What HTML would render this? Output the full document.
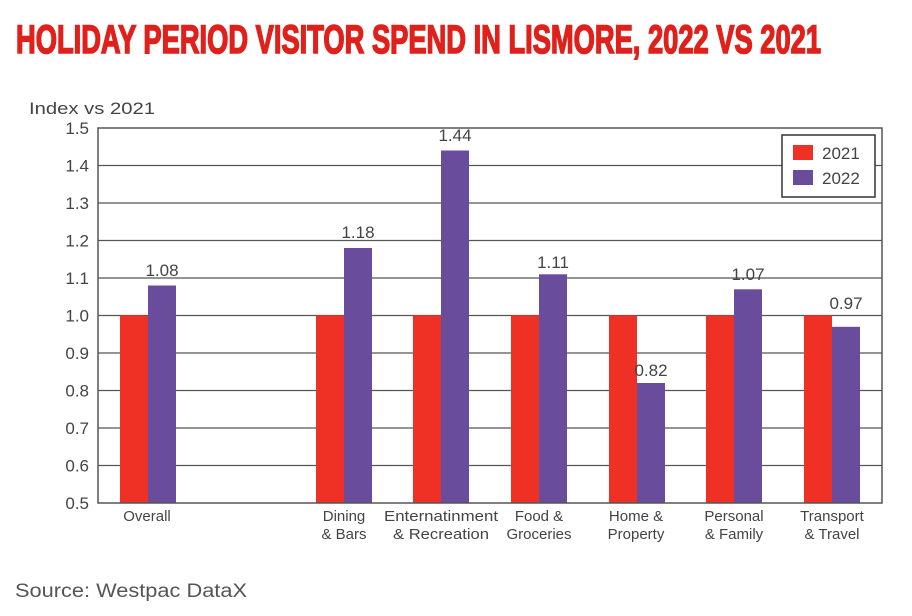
<!DOCTYPE html>
<html><head><meta charset="utf-8"><style>
html,body{margin:0;padding:0;background:#fff;}
svg{display:block;font-family:"Liberation Sans",sans-serif;}
</style></head><body>
<svg width="912" height="616" viewBox="0 0 912 616" xmlns="http://www.w3.org/2000/svg">
<text x="16" y="53" font-size="40" font-weight="bold" fill="#E0201B" stroke="#E0201B" stroke-width="1.6" textLength="805" lengthAdjust="spacingAndGlyphs" font-family="Liberation Sans Narrow, Liberation Sans, sans-serif">HOLIDAY PERIOD VISITOR SPEND IN LISMORE, 2022 VS 2021</text>
<text x="29" y="114" font-size="17" fill="#444" textLength="126" lengthAdjust="spacingAndGlyphs">Index vs 2021</text>
<g stroke="#555" stroke-width="1.2">
<line x1="98" x2="882" y1="165.5" y2="165.5"/>
<line x1="98" x2="882" y1="203" y2="203"/>
<line x1="98" x2="882" y1="240.5" y2="240.5"/>
<line x1="98" x2="882" y1="278" y2="278"/>
<line x1="98" x2="882" y1="315.5" y2="315.5"/>
<line x1="98" x2="882" y1="353" y2="353"/>
<line x1="98" x2="882" y1="390.5" y2="390.5"/>
<line x1="98" x2="882" y1="428" y2="428"/>
<line x1="98" x2="882" y1="465.5" y2="465.5"/>
</g>
<g font-size="17" fill="#444" text-anchor="end">
<text x="89" y="134">1.5</text><text x="89" y="171.5">1.4</text><text x="89" y="209">1.3</text>
<text x="89" y="246.5">1.2</text><text x="89" y="284">1.1</text><text x="89" y="321.5">1.0</text>
<text x="89" y="359">0.9</text><text x="89" y="396.5">0.8</text><text x="89" y="434">0.7</text>
<text x="89" y="471.5">0.6</text><text x="89" y="509">0.5</text>
</g>
<g fill="#EE3124">
<rect x="120" y="315.5" width="28" height="187.5"/>
<rect x="316" y="315.5" width="28" height="187.5"/>
<rect x="413" y="315.5" width="28" height="187.5"/>
<rect x="511" y="315.5" width="28" height="187.5"/>
<rect x="609" y="315.5" width="28" height="187.5"/>
<rect x="706" y="315.5" width="28" height="187.5"/>
<rect x="804" y="315.5" width="28" height="187.5"/>
</g>
<g fill="#6A4C9C">
<rect x="148" y="285.5" width="28" height="217.5"/>
<rect x="344" y="248" width="28" height="255"/>
<rect x="441" y="150.5" width="28" height="352.5"/>
<rect x="539" y="274.3" width="28" height="228.7"/>
<rect x="637" y="383" width="28" height="120"/>
<rect x="734" y="289.3" width="28" height="213.7"/>
<rect x="832" y="326.8" width="28" height="176.2"/>
</g>
<rect x="98" y="128" width="784" height="375" fill="none" stroke="#555" stroke-width="1.5"/>
<g font-size="17" fill="#444" text-anchor="middle">
<text x="162" y="276">1.08</text><text x="358" y="238">1.18</text><text x="455" y="141">1.44</text>
<text x="553" y="268">1.11</text><text x="651" y="376">0.82</text><text x="748" y="280">1.07</text>
<text x="846" y="309">0.97</text>
</g>
<g font-size="15" fill="#444" text-anchor="middle">
<text x="147" y="521">Overall</text>
<text x="344" y="521">Dining</text><text x="344" y="539">&amp; Bars</text>
<text x="441" y="521" textLength="114" lengthAdjust="spacingAndGlyphs">Enternatinment</text><text x="441" y="539" textLength="96" lengthAdjust="spacingAndGlyphs">&amp; Recreation</text>
<text x="539" y="521">Food &amp;</text><text x="539" y="539">Groceries</text>
<text x="636" y="521">Home &amp;</text><text x="636" y="539">Property</text>
<text x="734" y="521">Personal</text><text x="734" y="539">&amp; Family</text>
<text x="832" y="521">Transport</text><text x="832" y="539">&amp; Travel</text>
</g>
<rect x="782" y="135" width="93" height="62" fill="#fff" stroke="#333" stroke-width="1.5"/>
<rect x="793" y="145" width="20" height="15" fill="#EE3124"/>
<rect x="793" y="170" width="20" height="15" fill="#6A4C9C"/>
<text x="822" y="159" font-size="17" fill="#444">2021</text>
<text x="822" y="184" font-size="17" fill="#444">2022</text>
<text x="15" y="597" font-size="19" fill="#555" textLength="232" lengthAdjust="spacingAndGlyphs">Source: Westpac DataX</text>
</svg>
</body></html>
